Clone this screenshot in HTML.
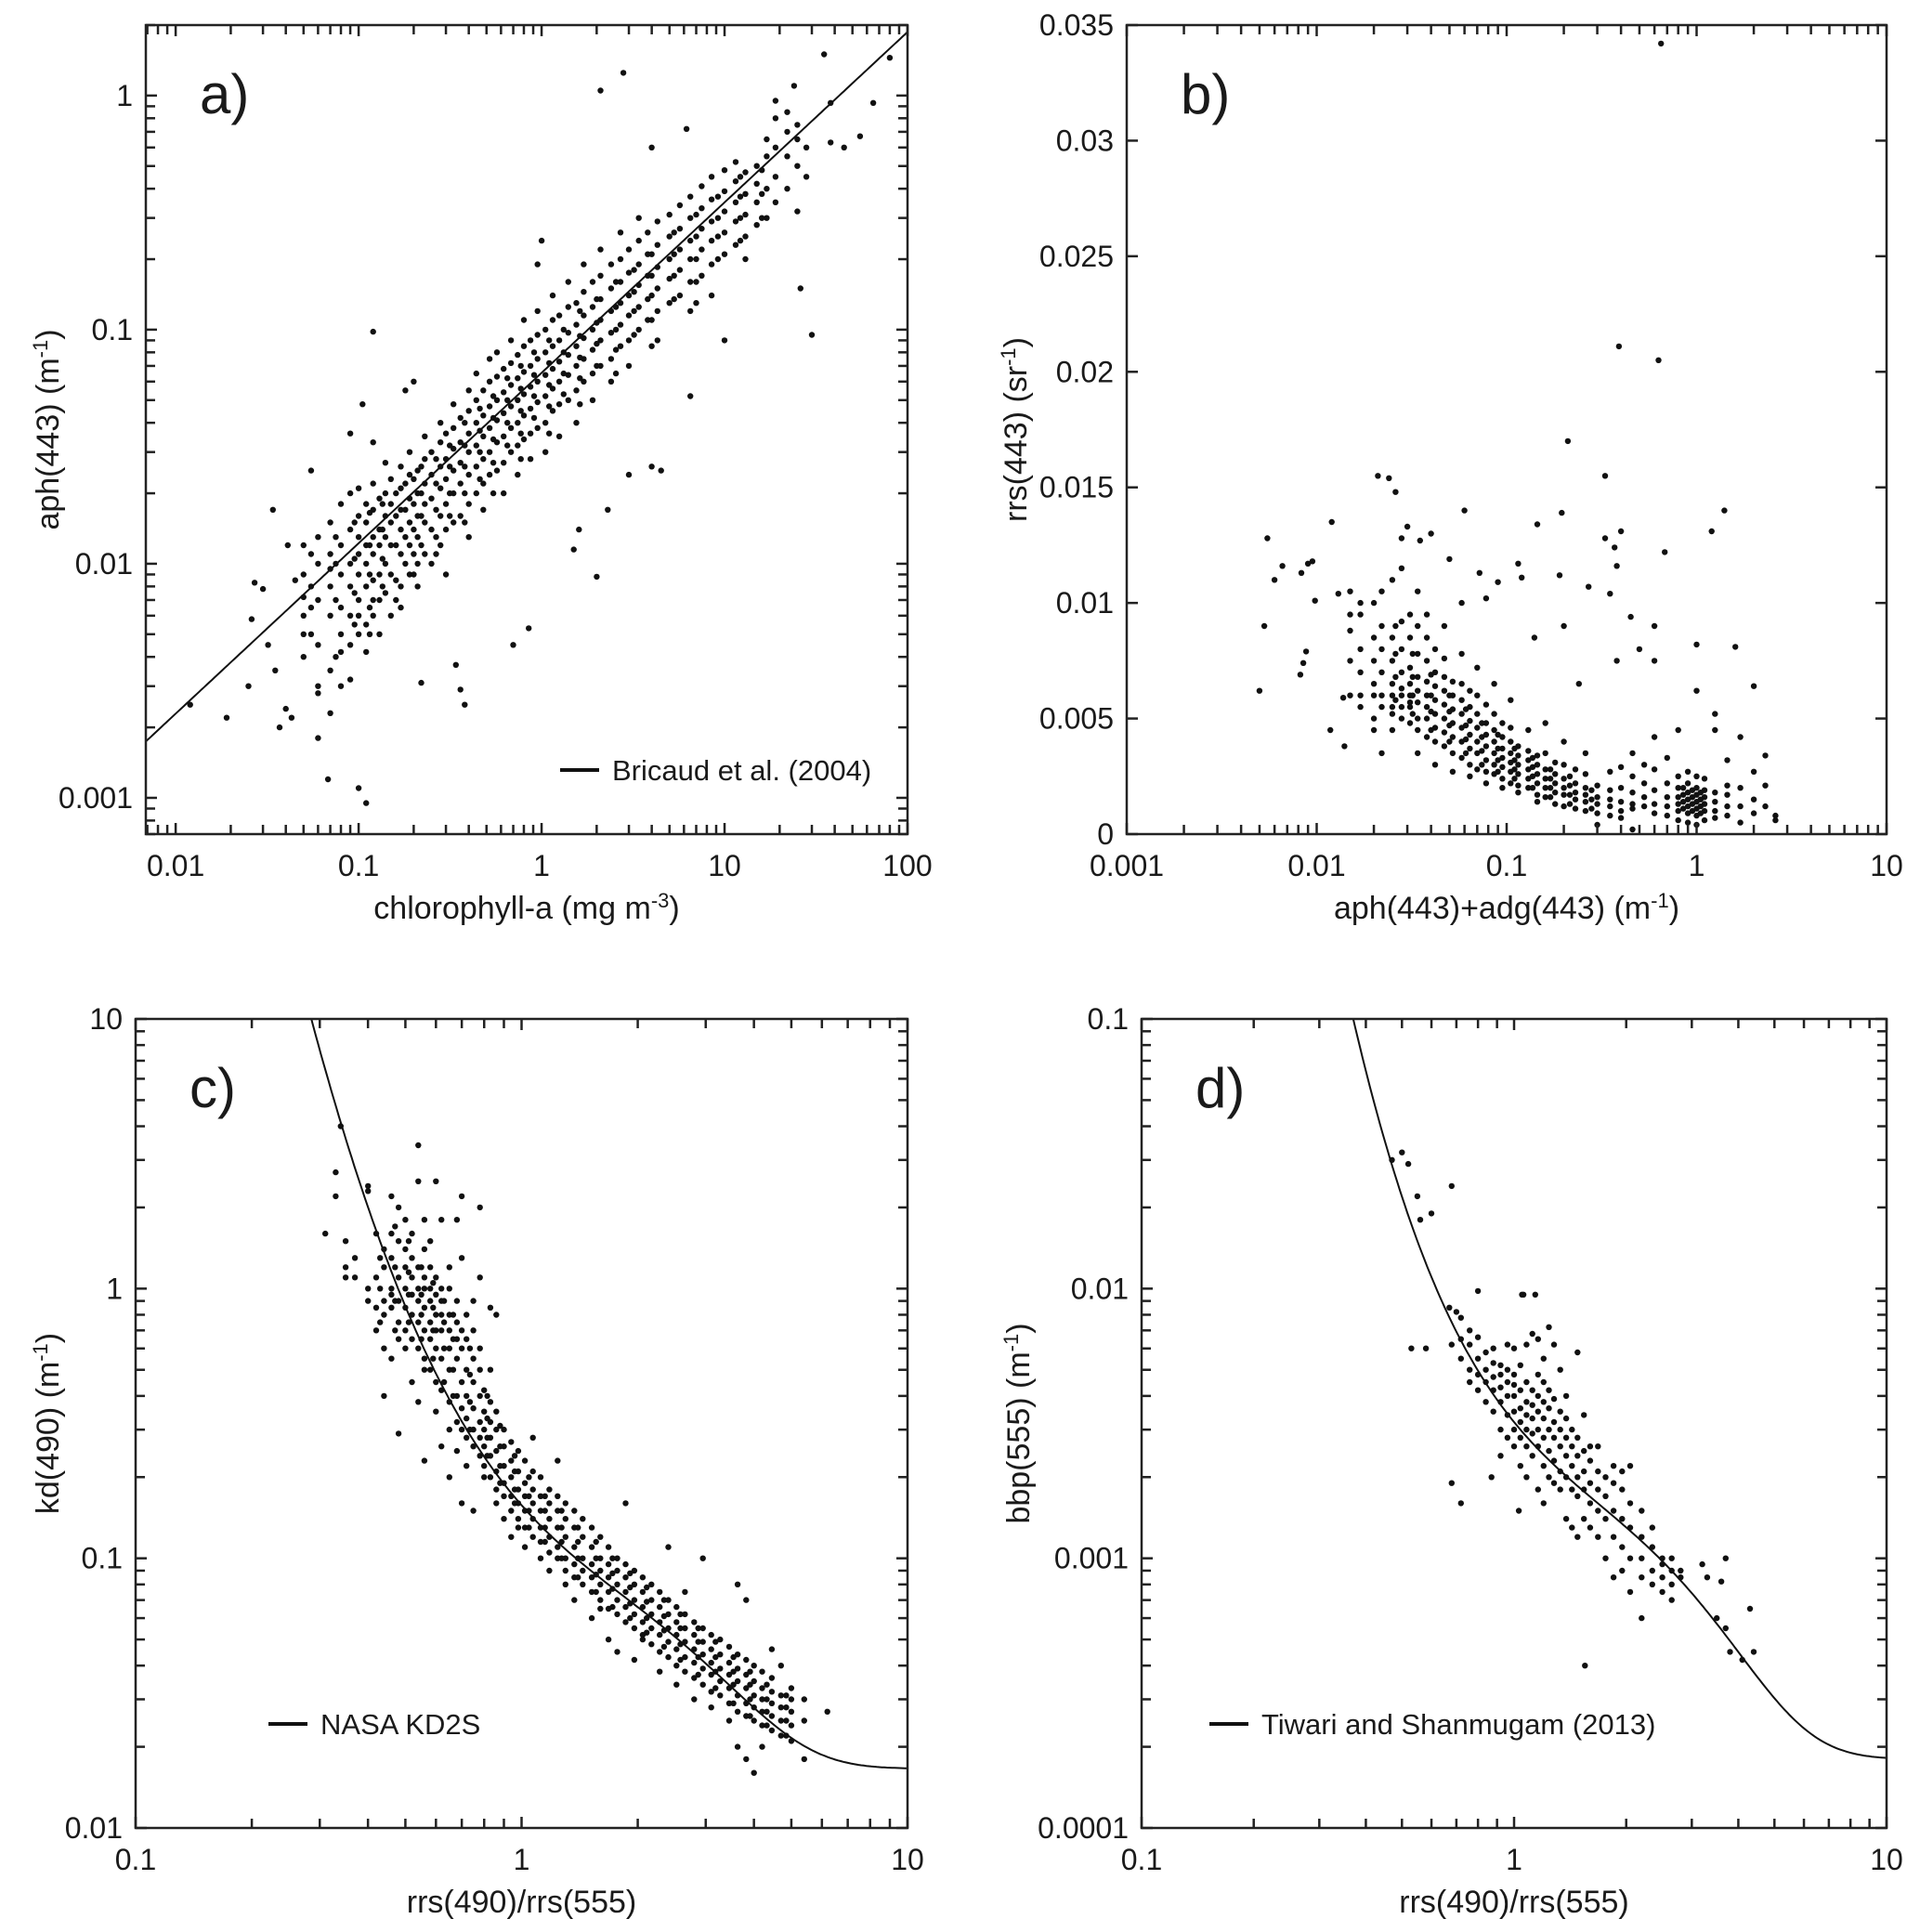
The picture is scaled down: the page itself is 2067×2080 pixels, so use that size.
<!DOCTYPE html>
<html><head><meta charset="utf-8"><style>
html,body{margin:0;padding:0;background:#fff}
svg{display:block}
text{font-family:"Liberation Sans",sans-serif;fill:#1a1a1a}
</style></head><body>
<svg id="fig" xmlns="http://www.w3.org/2000/svg" width="2067" height="2080" viewBox="0 0 2067 2080"></svg>
<script>
// ---------- Panel a data (chlorophyll-a vs aph443) ----------
const aBinX=[0.05,0.06,0.07,0.08,0.09,0.1,0.11,0.12,0.13,0.14,0.15,0.17,0.19,0.21,0.23,0.25,0.28,0.3,0.33,0.36,0.4,0.44,0.48,0.52,0.57,0.62,0.68,0.74,0.8,0.87,0.95,1.05,1.15,1.25,1.4,1.55,1.7,1.9,2.1,2.4,2.7,3,3.4,3.8,4.3,5,5.7,6.5,7.5,8.5,10,11.5,13,15,17,19,22,25,28];
const aBinY=[[0.004,0.006,0.009,0.012,0.005],[0.003,0.0045,0.007,0.01,0.013,0.0028],[0.0035,0.006,0.008,0.011,0.015,0.0095],[0.003,0.005,0.0065,0.009,0.012,0.018,0.0042],[0.0045,0.006,0.008,0.01,0.014,0.02,0.0032],[0.005,0.007,0.009,0.011,0.013,0.016,0.021,0.006],[0.0055,0.008,0.01,0.012,0.015,0.018,0.0042],[0.006,0.0085,0.011,0.013,0.017,0.022,0.007],[0.007,0.009,0.012,0.014,0.019,0.005],[0.0075,0.01,0.013,0.016,0.02,0.027],[0.006,0.009,0.012,0.015,0.018,0.023],[0.008,0.011,0.014,0.017,0.021,0.026,0.0065],[0.009,0.012,0.015,0.019,0.024,0.03],[0.01,0.013,0.016,0.02,0.025,0.008],[0.011,0.015,0.018,0.022,0.028,0.035],[0.01,0.014,0.019,0.024,0.03],[0.012,0.016,0.021,0.026,0.033,0.04],[0.014,0.018,0.023,0.028,0.036,0.009],[0.015,0.02,0.025,0.031,0.038,0.048],[0.016,0.022,0.027,0.033,0.042],[0.018,0.024,0.03,0.036,0.045,0.055,0.013],[0.02,0.026,0.032,0.04,0.05,0.065],[0.022,0.028,0.035,0.043,0.055,0.017],[0.024,0.03,0.038,0.047,0.06,0.075],[0.025,0.033,0.041,0.05,0.063,0.08],[0.027,0.035,0.044,0.054,0.068,0.02],[0.03,0.038,0.047,0.058,0.072,0.09],[0.032,0.04,0.05,0.062,0.078,0.024],[0.034,0.043,0.053,0.066,0.085,0.11],[0.036,0.046,0.057,0.07,0.09,0.028],[0.038,0.049,0.06,0.075,0.095,0.12],[0.04,0.052,0.064,0.08,0.1,0.03],[0.045,0.056,0.068,0.085,0.11,0.14],[0.048,0.06,0.073,0.09,0.115,0.035],[0.05,0.064,0.078,0.097,0.125,0.16],[0.055,0.07,0.085,0.105,0.13,0.04],[0.06,0.075,0.092,0.115,0.145,0.19],[0.065,0.082,0.1,0.125,0.16,0.05],[0.07,0.09,0.11,0.135,0.17,0.22],[0.075,0.097,0.12,0.15,0.19,0.06],[0.085,0.105,0.13,0.16,0.2,0.26],[0.09,0.115,0.14,0.175,0.22,0.07],[0.1,0.125,0.155,0.19,0.24,0.3],[0.11,0.135,0.17,0.21,0.26],[0.12,0.15,0.185,0.23,0.29,0.09],[0.13,0.165,0.2,0.25,0.31],[0.14,0.18,0.22,0.27,0.34],[0.16,0.2,0.24,0.3,0.37,0.12],[0.17,0.22,0.27,0.33,0.41],[0.19,0.24,0.29,0.36,0.45,0.14],[0.21,0.26,0.32,0.39,0.48,0.09],[0.23,0.29,0.35,0.43,0.52],[0.25,0.31,0.38,0.47,0.2],[0.28,0.35,0.42,0.5],[0.3,0.4,0.55,0.65],[0.35,0.45,0.6,0.8,0.95],[0.4,0.55,0.7,0.85],[0.5,0.65,0.75,0.32],[0.45,0.6]];
const aBin2X=[0.055,0.075,0.095,0.115,0.135,0.16,0.18,0.2,0.22,0.265,0.315,0.38,0.46,0.545,0.65,0.77,0.91,1.1,1.32,1.62,2.0,2.55,3.2,4.0,5.3,7.0,9.2,12.2,16];
const aBin2Y=[[0.005,0.008,0.011,0.0065],[0.004,0.007,0.01,0.013],[0.0055,0.0075,0.0105,0.015],[0.0065,0.009,0.012,0.0165,0.005],[0.008,0.0105,0.014,0.018],[0.0085,0.012,0.016,0.02,0.007],[0.01,0.013,0.017,0.022],[0.011,0.014,0.018,0.023,0.009],[0.012,0.016,0.02,0.026],[0.013,0.017,0.022,0.028,0.011],[0.016,0.02,0.026,0.032],[0.02,0.026,0.032,0.04,0.015],[0.023,0.03,0.037,0.046],[0.027,0.034,0.042,0.052,0.02],[0.032,0.04,0.05,0.062],[0.036,0.045,0.056,0.07,0.028],[0.042,0.052,0.064,0.08],[0.047,0.058,0.072,0.09,0.036],[0.053,0.065,0.08,0.1],[0.062,0.076,0.094,0.12,0.048],[0.07,0.087,0.107,0.135],[0.082,0.1,0.125,0.16,0.065],[0.095,0.12,0.145,0.18],[0.11,0.14,0.17,0.21,0.085],[0.135,0.17,0.21,0.26],[0.16,0.2,0.25,0.31,0.13],[0.2,0.25,0.3,0.37],[0.24,0.3,0.37,0.45],[0.3,0.38,0.48]];
const aOutX=[0.012,0.019,0.025,0.026,0.027,0.03,0.032,0.034,0.035,0.037,0.04,0.043,0.041,0.045,0.05,0.055,0.06,0.068,0.07,0.09,0.1,0.105,0.11,0.12,0.12,0.18,0.2,0.22,0.38,0.36,0.34,0.7,0.85,1,0.95,2.1,2.8,4,6.2,2.0,2.3,3,4,4.5,6.5,26,30,35,38,45,55,65,80,38,24,1.6,1.5];
const aOutY=[0.0025,0.0022,0.003,0.0058,0.0083,0.0078,0.0045,0.017,0.0035,0.002,0.0024,0.0022,0.012,0.0085,0.0072,0.025,0.0018,0.0012,0.0023,0.036,0.0011,0.048,0.00095,0.098,0.033,0.055,0.06,0.0031,0.0025,0.0029,0.0037,0.0045,0.0053,0.24,0.19,1.05,1.25,0.6,0.72,0.0088,0.017,0.024,0.026,0.025,0.052,0.15,0.095,1.5,0.63,0.6,0.67,0.93,1.45,0.93,1.1,0.014,0.0115];
const aXTicks=[0.01,0.1,1,10,100];
const aXLabels=["0.01","0.1","1","10","100"];
const aYTicks=[0.001,0.01,0.1,1];
const aYLabels=["0.001","0.01","0.1","1"];

// ---------- Panel b data ----------
const bBinX=[0.015,0.017,0.02,0.022,0.025,0.028,0.031,0.034,0.038,0.042,0.047,0.052,0.058,0.064,0.07,0.078,0.086,0.095,0.105,0.115,0.13,0.145,0.16,0.18,0.2,0.23,0.26,0.3,0.35,0.4,0.46,0.53,0.6,0.7,0.8,0.9,1.0,1.1,1.25,1.45,1.7,2.0,2.3,2.6];
const bBinY=[[0.006,0.0075,0.0088,0.0095,0.0105],[0.0055,0.007,0.008,0.0095,0.01,0.006],[0.005,0.006,0.0065,0.0075,0.0085,0.01,0.0045],[0.0055,0.006,0.007,0.008,0.009,0.0105,0.0035],[0.0045,0.0055,0.006,0.0065,0.0075,0.0085,0.011,0.0052],[0.005,0.0055,0.006,0.0063,0.007,0.008,0.0092,0.0115],[0.0048,0.0055,0.006,0.0065,0.0072,0.0085,0.0095,0.0057],[0.0045,0.005,0.0057,0.0062,0.0068,0.0078,0.009,0.0105,0.0035],[0.0042,0.005,0.0055,0.006,0.0066,0.0075,0.0085,0.0095],[0.004,0.0046,0.0052,0.0058,0.0064,0.007,0.008,0.003],[0.0038,0.0044,0.005,0.0056,0.0062,0.0068,0.0076,0.009],[0.0035,0.0042,0.0048,0.0054,0.006,0.0066,0.0027],[0.0033,0.004,0.0046,0.0052,0.0058,0.0065,0.0078],[0.003,0.0037,0.0043,0.0049,0.0055,0.0062,0.0025],[0.0028,0.0035,0.004,0.0046,0.0052,0.006,0.0072],[0.0027,0.0032,0.0038,0.0043,0.0048,0.0056,0.0022],[0.0026,0.003,0.0035,0.004,0.0045,0.0052,0.0065],[0.0024,0.0029,0.0033,0.0037,0.0042,0.0048,0.002],[0.0022,0.0027,0.0031,0.0035,0.004,0.0046,0.0058],[0.0021,0.0026,0.003,0.0034,0.0038,0.0018],[0.002,0.0024,0.0028,0.0032,0.0036,0.0045],[0.0017,0.0022,0.0026,0.003,0.0034,0.0014],[0.0016,0.002,0.0024,0.0028,0.0035,0.0048],[0.0013,0.0018,0.0022,0.0026,0.0031],[0.0012,0.0017,0.002,0.0024,0.003,0.004],[0.0011,0.0015,0.0018,0.0022,0.0028],[0.001,0.0014,0.0017,0.002,0.0026,0.0035],[0.0004,0.0009,0.0013,0.0016,0.0021],[0.0008,0.0012,0.0015,0.0019,0.0027],[0.0007,0.001,0.0014,0.002,0.0029],[0.0002,0.0011,0.0013,0.0018,0.0025,0.0035],[0.0012,0.0016,0.0022,0.003],[0.0009,0.0013,0.0019,0.0028,0.0042],[0.0008,0.0012,0.0016,0.0022,0.0033],[0.0006,0.001,0.0013,0.0016,0.002,0.0025,0.0045],[0.0005,0.0009,0.0012,0.0015,0.0018,0.0022,0.0027],[0.0004,0.0008,0.0011,0.0014,0.0017,0.002,0.0025,0.0062],[0.0006,0.001,0.0013,0.0016,0.0019,0.0024],[0.0007,0.001,0.0014,0.0018,0.0045,0.0052],[0.0008,0.0012,0.0017,0.0021,0.0032],[0.0005,0.0012,0.002,0.0042],[0.0009,0.0015,0.0027],[0.0012,0.0021,0.0034],[0.0006,0.0008]];
const bBin2X=[0.026,0.032,0.04,0.05,0.061,0.074,0.09,0.11,0.137,0.17,0.215,0.28,0.85,0.95,1.05];
const bBin2Y=[[0.0058,0.0068,0.0078,0.009],[0.0052,0.006,0.0068,0.0078],[0.0045,0.0053,0.006,0.0069],[0.004,0.0047,0.0053,0.006],[0.0035,0.0041,0.0047,0.0054],[0.003,0.0036,0.0042,0.0048],[0.0027,0.0032,0.0037,0.0043],[0.0024,0.0028,0.0032,0.0037],[0.002,0.0025,0.0029,0.0033],[0.0016,0.002,0.0024,0.0028],[0.0013,0.0017,0.0021,0.0025],[0.0011,0.0015,0.0019],[0.0011,0.0014,0.0017,0.002],[0.001,0.0013,0.0016,0.0019],[0.0009,0.0012,0.0015,0.0018]];
const bOutX=[0.005,0.0053,0.0055,0.006,0.0066,0.0082,0.0083,0.0085,0.009,0.0095,0.0098,0.0088,0.012,0.0118,0.013,0.0138,0.014,0.021,0.024,0.026,0.06,0.145,0.195,0.21,0.33,0.39,0.63,0.65,0.4,0.33,0.37,0.38,0.68,1.2,1.4,1.6,2,1.0,0.6,0.45,0.27,0.19,0.2,0.115,0.12,0.09,0.072,0.05,0.04,0.028,0.03,0.035,0.058,0.078,0.35,0.5,0.6,0.38,0.24,0.14];
const bOutY=[0.0062,0.009,0.0128,0.011,0.0116,0.0069,0.0113,0.0074,0.0117,0.0118,0.0101,0.0079,0.0135,0.0045,0.0104,0.0059,0.0038,0.0155,0.0154,0.0148,0.014,0.0134,0.0139,0.017,0.0155,0.0211,0.0205,0.0342,0.0131,0.0128,0.0124,0.0116,0.0122,0.0131,0.014,0.0081,0.0064,0.0082,0.009,0.0094,0.0107,0.0112,0.009,0.0117,0.0111,0.0109,0.0113,0.0119,0.013,0.0128,0.0133,0.0127,0.01,0.0102,0.0104,0.008,0.0075,0.0075,0.0065,0.0085];
const bXTicks=[0.001,0.01,0.1,1,10];
const bXLabels=["0.001","0.01","0.1","1","10"];
const bYTicks=[0,0.005,0.01,0.015,0.02,0.025,0.03,0.035];
const bYLabels=["0","0.005","0.01","0.015","0.02","0.025","0.03","0.035"];

// ---------- Panel c data ----------
const cBinX=[0.31,0.33,0.34,0.35,0.37,0.4,0.42,0.44,0.46,0.48,0.5,0.52,0.54,0.56,0.58,0.6,0.62,0.65,0.68,0.7,0.72,0.75,0.78,0.8,0.83,0.86,0.9,0.94,0.98,1.02,1.07,1.12,1.18,1.24,1.3,1.37,1.44,1.52,1.6,1.68,1.77,1.86,1.96,2.06,2.17,2.28,2.4,2.52,2.65,2.8,2.95,3.1,3.27,3.45,3.63,3.82,4.0,4.2,4.45,4.7,5.0,5.4,6.2];
const cBinY=[[1.6],[2.2,2.7],[4.0],[1.1,1.5,1.2],[1.3,1.1],[0.9,1.0,2.3,2.4],[0.7,0.85,1.6,1.1],[0.8,0.9,1.2,1.4,0.4,0.6],[0.85,0.95,1.0,1.3,1.6,2.2,0.55],[0.75,0.9,1.1,1.5,2.0,0.29,0.65],[0.7,0.85,1.0,1.2,1.4,1.8,0.6],[0.65,0.8,0.95,1.1,1.3,1.6,0.45],[0.6,0.75,0.9,1.0,1.2,3.4,2.5,0.38],[0.55,0.7,0.85,1.0,1.1,1.4,1.8,0.5,0.23],[0.5,0.65,0.75,0.9,1.0,1.2,1.5],[0.45,0.6,0.7,0.8,0.95,1.1,2.5,0.35],[0.42,0.55,0.7,0.8,0.9,1.0,1.8,0.26],[0.38,0.5,0.6,0.7,0.8,1.0,1.2,0.3,0.2],[0.32,0.4,0.55,0.65,0.75,0.9,1.8,0.25],[0.3,0.36,0.45,0.6,0.7,1.3,2.2,0.16],[0.28,0.33,0.4,0.5,0.65,0.8,0.22],[0.26,0.3,0.36,0.45,0.55,0.7,0.9,0.15],[0.24,0.28,0.32,0.4,0.5,0.6,1.1,2.0],[0.22,0.26,0.3,0.35,0.42,0.2],[0.2,0.24,0.28,0.32,0.38,0.5,0.85],[0.18,0.21,0.25,0.3,0.35,0.16,0.8],[0.17,0.19,0.22,0.26,0.3,0.14],[0.15,0.17,0.2,0.23,0.27,0.12],[0.14,0.16,0.18,0.21,0.25,0.13],[0.13,0.15,0.17,0.19,0.23,0.11],[0.12,0.14,0.16,0.18,0.21,0.28],[0.115,0.13,0.15,0.17,0.2,0.1],[0.105,0.12,0.14,0.16,0.18,0.09],[0.1,0.11,0.13,0.15,0.17,0.23],[0.09,0.1,0.12,0.14,0.16,0.08],[0.085,0.095,0.11,0.13,0.15,0.07],[0.08,0.09,0.1,0.12,0.14],[0.075,0.085,0.095,0.11,0.13,0.06],[0.07,0.08,0.09,0.1,0.12,0.065],[0.065,0.075,0.085,0.095,0.11,0.05],[0.062,0.07,0.08,0.09,0.1,0.045],[0.058,0.066,0.075,0.085,0.095,0.16],[0.055,0.062,0.07,0.08,0.09,0.042],[0.052,0.058,0.066,0.075,0.085,0.05],[0.048,0.055,0.062,0.07,0.08],[0.045,0.052,0.058,0.066,0.075,0.038],[0.043,0.049,0.055,0.062,0.07,0.11],[0.04,0.046,0.052,0.058,0.066,0.034],[0.038,0.043,0.049,0.055,0.062,0.075],[0.036,0.041,0.046,0.052,0.058,0.03],[0.034,0.039,0.044,0.049,0.055,0.1],[0.032,0.037,0.041,0.046,0.052,0.028],[0.031,0.035,0.039,0.044,0.05],[0.029,0.033,0.037,0.041,0.047,0.025],[0.027,0.031,0.035,0.039,0.044,0.02,0.08],[0.026,0.029,0.033,0.037,0.042,0.018,0.07],[0.025,0.028,0.031,0.035,0.04,0.016],[0.024,0.027,0.03,0.033,0.038,0.02],[0.023,0.026,0.029,0.032,0.036,0.046],[0.022,0.025,0.028,0.031,0.04],[0.021,0.024,0.027,0.03,0.033],[0.018,0.025,0.03],[0.027]];
const cBin2X=[0.43,0.47,0.51,0.55,0.59,0.63,0.665,0.735,0.815,0.88,0.96,1.045,1.15,1.27,1.4,1.56,1.72,1.91,2.11,2.34,2.58,2.87,3.18,3.54,3.91,4.32,4.85];
const cBin2Y=[[0.75,1.0,1.3],[0.7,0.9,1.2,1.7],[0.75,0.95,1.15,1.5],[0.65,0.8,0.95,1.2],[0.55,0.7,0.85,1.05],[0.45,0.6,0.75,0.9],[0.4,0.5,0.65,0.8],[0.3,0.38,0.48,0.6],[0.24,0.28,0.33,0.4],[0.19,0.22,0.26,0.31],[0.16,0.18,0.21,0.24],[0.13,0.15,0.17,0.2],[0.115,0.13,0.15,0.17],[0.1,0.115,0.13,0.15],[0.085,0.1,0.115,0.13],[0.075,0.087,0.1,0.115],[0.066,0.077,0.088,0.1],[0.06,0.068,0.078,0.088],[0.053,0.06,0.069,0.078],[0.047,0.054,0.061,0.07],[0.042,0.048,0.055,0.062],[0.037,0.043,0.049,0.055],[0.033,0.038,0.043,0.049],[0.029,0.034,0.038,0.043],[0.026,0.03,0.034,0.038],[0.024,0.027,0.03,0.034],[0.022,0.025,0.028,0.031]];
const cXTicks=[0.1,1,10];
const cXLabels=["0.1","1","10"];
const cYTicks=[0.01,0.1,1,10];
const cYLabels=["0.01","0.1","1","10"];
const kd2sCoef=[-0.8515,-1.8263,1.8714,-2.4414,-1.0690];
const kd2sOffset=0.0166;

// ---------- Panel d data ----------
const dBinX=[0.72,0.76,0.8,0.84,0.88,0.92,0.96,1.0,1.04,1.08,1.12,1.16,1.2,1.24,1.28,1.33,1.38,1.43,1.48,1.54,1.6,1.68,1.76,1.85,1.95,2.05,2.2,2.35,2.5,2.65,2.8];
const dBinY=[[0.0055,0.0065,0.0078],[0.0045,0.005,0.0062,0.007],[0.0042,0.0048,0.0055,0.0066],[0.0038,0.0045,0.005,0.0058],[0.0035,0.0042,0.0047,0.0053,0.006],[0.003,0.0038,0.0043,0.0048,0.0052],[0.0028,0.0034,0.004,0.0045,0.005,0.0062],[0.0026,0.003,0.0035,0.004,0.0044,0.0048,0.006],[0.0022,0.0028,0.0032,0.0036,0.0042,0.0052],[0.002,0.0026,0.003,0.0034,0.0038,0.0045,0.0062],[0.0024,0.0029,0.0033,0.0037,0.0042,0.0068],[0.0018,0.0026,0.003,0.0035,0.004,0.0048,0.0065],[0.0016,0.0022,0.0028,0.0033,0.0038,0.0045,0.0055],[0.002,0.0025,0.003,0.0036,0.0042,0.0072],[0.0019,0.0023,0.0028,0.0032,0.0039,0.0062],[0.0018,0.0021,0.0026,0.003,0.0035,0.005],[0.0014,0.002,0.0024,0.0028,0.0033,0.004],[0.0013,0.0018,0.0022,0.0026,0.003],[0.0012,0.0017,0.002,0.0024,0.0028,0.0058],[0.0014,0.0018,0.0021,0.0025,0.0034],[0.0013,0.0016,0.0019,0.0023,0.0026],[0.0012,0.0015,0.0018,0.0021,0.0026],[0.001,0.0014,0.0017,0.002],[0.00085,0.0012,0.0015,0.0019,0.0022],[0.0009,0.0011,0.0014,0.0018,0.0021],[0.00075,0.001,0.0013,0.0016,0.0022],[0.00085,0.001,0.0012,0.0015],[0.0008,0.0009,0.0011,0.0013],[0.00075,0.00085,0.00095,0.001],[0.0007,0.0008,0.0009,0.001],[0.00085,0.0009]];
const dOutX=[0.47,0.5,0.52,0.55,0.56,0.6,0.53,0.58,0.68,0.67,0.7,0.68,0.68,0.72,0.8,1.05,1.06,1.14,1.55,1.03,2.2,4.3,4.4,4.1,3.8,3.7,3.5,3.7,3.6,3.2,3.3,0.87,0.92];
const dOutY=[0.03,0.032,0.029,0.022,0.018,0.019,0.006,0.006,0.024,0.0085,0.0082,0.0062,0.0019,0.0016,0.0098,0.0095,0.0095,0.0095,0.0004,0.0015,0.0006,0.00065,0.00045,0.00042,0.00045,0.00055,0.0006,0.001,0.00082,0.00095,0.00085,0.002,0.0024];
const dXTicks=[0.1,1,10];
const dXLabels=["0.1","1","10"];
const dYTicks=[0.0001,0.001,0.01,0.1];
const dYLabels=["0.0001","0.001","0.01","0.1"];
const tsCoef=[-2.52,-1.797,2.359,-3.77];
const tsOffset=0.00018;

// ---------- Drawing ----------
const NS="http://www.w3.org/2000/svg";
const svg=document.getElementById('fig');
function mk(tag,attrs,parent){const e=document.createElementNS(NS,tag);for(const k in attrs)e.setAttribute(k,attrs[k]);(parent||svg).appendChild(e);return e;}
function logS(d0,d1,r0,r1){const l0=Math.log10(d0),l1=Math.log10(d1);return v=>r0+(Math.log10(v)-l0)/(l1-l0)*(r1-r0);}
function linS(d0,d1,r0,r1){return v=>r0+(v-d0)/(d1-d0)*(r1-r0);}

function panel(cfg){
  const g=mk('g',{});
  
  
  const {L,T,R,B}=cfg;
  const X=logS(cfg.xd[0],cfg.xd[1],L,R);
  const Y=cfg.ylog?logS(cfg.yd[0],cfg.yd[1],B,T):linS(cfg.yd[0],cfg.yd[1],B,T);
  const clipId='clip-'+cfg.name;
  const cp=mk('clipPath',{id:clipId},g);mk('rect',{x:L,y:T,width:R-L,height:B-T},cp);
  const pts=mk('g',{'clip-path':'url(#'+clipId+')'},g);
  
  
  cfg.binX.forEach((x,i)=>cfg.binY[i].forEach(y=>{const c=mk('circle',{cx:X(x).toFixed(1),cy:Y(y).toFixed(1),r:3.2,fill:'#111'},pts);
    
    }));
  cfg.outX.forEach((x,i)=>{const c=mk('circle',{cx:X(x).toFixed(1),cy:Y(cfg.outY[i]).toFixed(1),r:3.2,fill:'#111'},pts);
    
    });
  if(cfg.curve){
    let d='';const l0=Math.log10(cfg.xd[0]),l1=Math.log10(cfg.xd[1]);
    for(let i=0;i<=300;i++){const lx=l0+(l1-l0)*i/300;const x=Math.pow(10,lx);const y=cfg.curve(x);
      d+=(i?'L':'M')+X(x).toFixed(1)+','+Math.max(-5000,Math.min(5000,Y(y))).toFixed(1);}
    const p=mk('path',{d:d,fill:'none',stroke:'#111','stroke-width':2,'clip-path':'url(#'+clipId+')'},g);
    
    
  }
  const fr=mk('rect',{x:L,y:T,width:R-L,height:B-T,fill:'none',stroke:'#222','stroke-width':2.5},g);
  
  
  const tk=mk('g',{stroke:'#222','stroke-width':2.5},g);
  const lx0=Math.floor(Math.log10(cfg.xd[0])),lx1=Math.ceil(Math.log10(cfg.xd[1]));
  for(let k=lx0;k<=lx1;k++)for(let m=1;m<10;m++){const v=m*Math.pow(10,k);if(v<cfg.xd[0]*0.999||v>cfg.xd[1]*1.001)continue;
    const px=X(v);const len=m===1?12:10;mk('line',{x1:px,y1:B,x2:px,y2:B-len},tk);mk('line',{x1:px,y1:T,x2:px,y2:T+len},tk);}
  if(cfg.ylog){const ly0=Math.floor(Math.log10(cfg.yd[0])),ly1=Math.ceil(Math.log10(cfg.yd[1]));
    for(let k=ly0;k<=ly1;k++)for(let m=1;m<10;m++){const v=m*Math.pow(10,k);if(v<cfg.yd[0]*0.999||v>cfg.yd[1]*1.001)continue;
      const py=Y(v);const len=m===1?12:10;mk('line',{x1:L,y1:py,x2:L+len,y2:py},tk);mk('line',{x1:R,y1:py,x2:R-len,y2:py},tk);}}
  else cfg.yTicks.forEach(v=>{const py=Y(v);mk('line',{x1:L,y1:py,x2:L+12,y2:py},tk);mk('line',{x1:R,y1:py,x2:R-12,y2:py},tk);});
  cfg.xTicks.forEach((v,i)=>{const t=mk('text',{x:X(v),y:B+45,'text-anchor':'middle','font-size':32},g);t.textContent=cfg.xLabels[i];
    
    });
  cfg.yTicks.forEach((v,i)=>{const t=mk('text',{x:L-14,y:Y(v)+11,'text-anchor':'end','font-size':32},g);t.textContent=cfg.yLabels[i];
    
    });
  const xt=mk('text',{x:(L+R)/2,y:B+91,'text-anchor':'middle','font-size':34},g);xt.innerHTML=cfg.xTitle;
  
  
  const yt=mk('text',{x:0,y:0,'text-anchor':'middle','font-size':34,transform:'translate('+cfg.yTitleX+','+((T+B)/2)+') rotate(-90)'},g);yt.innerHTML=cfg.yTitle;
  
  
  const pl=mk('text',{x:L+58,y:T+95,'font-size':60},g);pl.textContent=cfg.letter;
  
  
  if(cfg.legend){const lg=mk('g',{},g);
    
    
    mk('line',{x1:cfg.legend.x,y1:cfg.legend.y,x2:cfg.legend.x+42,y2:cfg.legend.y,stroke:'#111','stroke-width':4},lg);
    const t=mk('text',{x:cfg.legend.x+56,y:cfg.legend.y+11,'font-size':31},lg);t.textContent=cfg.legend.text;}
}
const sup1='<tspan baseline-shift="super" font-size="22">-1</tspan>';
panel({name:'panel-a',L:157,T:27,R:977,B:898,xd:[0.00687,100],yd:[0.0007,2.0],ylog:true,
  binX:aBinX.concat(aBin2X),binY:aBinY.concat(aBin2Y),outX:aOutX,outY:aOutY,xTicks:aXTicks,xLabels:aXLabels,yTicks:aYTicks,yLabels:aYLabels,
  curve:x=>0.0654*Math.pow(x,0.728),xTitle:'chlorophyll-a (mg m<tspan baseline-shift="super" font-size="22">-3</tspan>)',
  yTitle:'aph(443) (m'+sup1+')',yTitleX:63,letter:'a)',legend:{x:603,y:829,text:'Bricaud et al. (2004)'}});
panel({name:'panel-b',L:1213,T:27,R:2031,B:898,xd:[0.001,10],yd:[0,0.035],ylog:false,
  binX:bBinX.concat(bBin2X),binY:bBinY.concat(bBin2Y),outX:bOutX,outY:bOutY,xTicks:bXTicks,xLabels:bXLabels,yTicks:bYTicks,yLabels:bYLabels,
  xTitle:'aph(443)+adg(443) (m'+sup1+')',yTitle:'rrs(443) (sr'+sup1+')',yTitleX:1105,letter:'b)'});
panel({name:'panel-c',L:146,T:1097,R:977,B:1968,xd:[0.1,10],yd:[0.01,10],ylog:true,
  binX:cBinX.concat(cBin2X),binY:cBinY.concat(cBin2Y),outX:[],outY:[],xTicks:cXTicks,xLabels:cXLabels,yTicks:cYTicks,yLabels:cYLabels,
  curve:x=>{const l=Math.log10(x);let s=0;kd2sCoef.forEach((c,i)=>s+=c*Math.pow(l,i));return kd2sOffset+Math.pow(10,s);},
  xTitle:'rrs(490)/rrs(555)',yTitle:'kd(490) (m'+sup1+')',yTitleX:63,letter:'c)',legend:{x:289,y:1856,text:'NASA KD2S'}});
panel({name:'panel-d',L:1229,T:1097,R:2031,B:1968,xd:[0.1,10],yd:[0.0001,0.1],ylog:true,
  binX:dBinX,binY:dBinY,outX:dOutX,outY:dOutY,xTicks:dXTicks,xLabels:dXLabels,yTicks:dYTicks,yLabels:dYLabels,
  curve:x=>{const l=Math.log10(x);let s=0;tsCoef.forEach((c,i)=>s+=c*Math.pow(l,i));return tsOffset+Math.pow(10,s);},
  xTitle:'rrs(490)/rrs(555)',yTitle:'bbp(555) (m'+sup1+')',yTitleX:1108,letter:'d)',legend:{x:1302,y:1856,text:'Tiwari and Shanmugam (2013)'}});
</script>
</body></html>
